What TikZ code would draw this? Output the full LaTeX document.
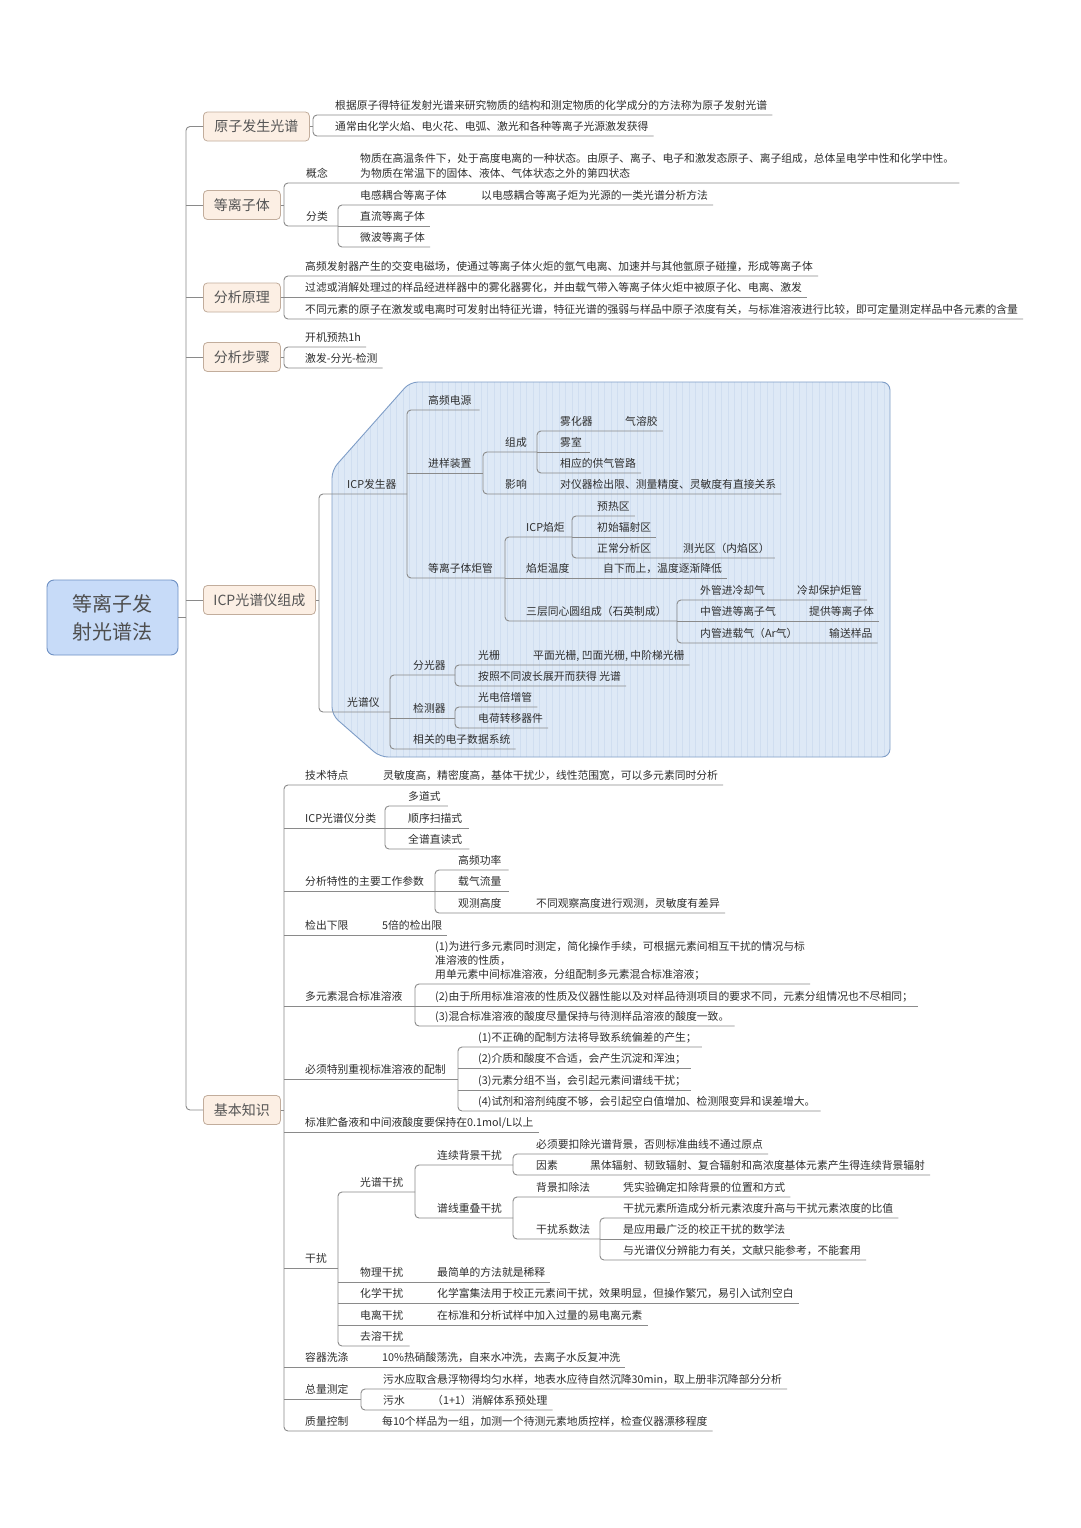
\documentclass[tikz,border=0pt]{standalone}
\usepackage{fontspec}
\setmainfont{Noto Sans CJK SC}
\definecolor{linegray}{HTML}{8A8A8A}
\definecolor{txt}{HTML}{2E2E2E}
\definecolor{rootfill}{HTML}{C7DBF8}
\definecolor{rootborder}{HTML}{6E90C3}
\definecolor{roottxt}{HTML}{4E4E4E}
\definecolor{lfill}{HTML}{FCEFE4}
\definecolor{lborder}{HTML}{C2AD9C}
\definecolor{ltxt}{HTML}{555555}
\definecolor{panelfill}{HTML}{DEE9F6}
\definecolor{panelgrid}{HTML}{D0DEF0}
\definecolor{panelborder}{HTML}{7E9DC7}
\newcommand\fsz{\fontsize{10.8}{14}\selectfont}
\begin{document}
\begin{tikzpicture}[x=1pt,y=-1pt,
  ln/.style={draw=linegray, line width=0.9pt, rounded corners=4pt},
  t/.style={font=\fsz, text=txt, inner xsep=0pt, inner ysep=3.5pt, text depth=2pt, anchor=south west},
  lone/.style={draw=lborder, fill=lfill, rounded corners=4pt, font=\fontsize{14}{16}\selectfont, text=ltxt, minimum height=29pt, inner xsep=2pt, anchor=west, line width=0.8pt},
  root/.style={draw=rootborder, fill=rootfill, rounded corners=7pt, minimum width=131pt, minimum height=75pt, align=center, font=\fontsize{20}{28}\selectfont, text=roottxt, line width=0.9pt}
]
\fill[white] (0,0) rectangle (1080,1528);
\useasboundingbox (0,0) rectangle (1080,1528);

% ---------- ICP panel ----------
\fill[panelfill, rounded corners=8pt] (332,470) -- (410,382) -- (890,382) -- (890,757) -- (380,757) -- (332,715) -- cycle;
\begin{scope}
\clip[rounded corners=8pt] (332,470) -- (410,382) -- (890,382) -- (890,757) -- (380,757) -- (332,715) -- cycle;
\draw[panelgrid, line width=0.3pt, step=6.5] (332,382) grid (890,757);
\end{scope}
\draw[panelborder, rounded corners=8pt, line width=0.9pt] (332,470) -- (410,382) -- (890,382) -- (890,757) -- (380,757) -- (332,715) -- cycle;

% ---------- root and main branches ----------
\node[root] (root) at (112.5,617.5) {等离子发\\射光谱法};
\node[lone, minimum width=106pt] (b1) at (203,126.5) {原子发生光谱};
\node[lone, minimum width=77pt] (b2) at (203,205) {等离子体};
\node[lone, minimum width=77pt] (b3) at (203,297.5) {分析原理};
\node[lone, minimum width=77pt] (b4) at (203,357) {分析步骤};
\node[lone, minimum width=112pt] (b5) at (203,600) {ICP光谱仪组成};
\node[lone, minimum width=77pt] (b6) at (203,1110) {基本知识};

\draw[ln] (b1.west) -- (186,126.5) -- (186,1110) -- (b6.west);
\draw[ln] (root.east) -- (186,617.5);
\draw[ln] (186,205) -- (b2.west);
\draw[ln] (186,297.5) -- (b3.west);
\draw[ln] (186,357) -- (b4.west);
\draw[ln] (186,600) -- (b5.west);

% ---------- 原子发生光谱 ----------
\node[t] (a1) at (335,115) {根据原子得特征发射光谱来研究物质的结构和测定物质的化学成分的方法称为原子发射光谱};
\node[t] (a2) at (335,136) {通常由化学火焰、电火花、电弧、激光和各种等离子光源激发获得};
\draw[ln] ([xshift=5pt]a1.south east) -- (313,115) -- (313,136) -- ([xshift=5pt]a2.south east);
\draw[ln] (b1.east) -- (313,126.5);

% ---------- 等离子体 ----------
\node[t] (p1) at (306,183) {概念};
\node[t, align=left, font=\fontsize{10.8}{15}\selectfont] (p1a) at (360,183) {物质在高温条件下，处于高度电离的一种状态。由原子、离子、电子和激发态原子、离子组成，总体呈电学中性和化学中性。\\为物质在常温下的固体、液体、气体状态之外的第四状态};
\node[t] (p2) at (306,226) {分类};
\node[t] (p21) at (360,205) {电感耦合等离子体};
\node[t] (p21a) at (481,205) {以电感耦合等离子炬为光源的一类光谱分析方法};
\node[t] (p22) at (360,226) {直流等离子体};
\node[t] (p23) at (360,247) {微波等离子体};
\draw[ln] ([xshift=5pt]p1a.south east) -- (284,183) -- (284,226) -- (338,226);
\draw[ln] (b2.east) -- (284,205);
\draw[ln] ([xshift=5pt]p21a.south east) -- (338,205) -- (338,247) -- ([xshift=5pt]p23.south east);
\draw[ln] (338,226) -- ([xshift=5pt]p22.south east);

% ---------- 分析原理 ----------
\node[t] (r1) at (305,276) {高频发射器产生的交变电磁场，使通过等离子体火炬的氩气电离、加速并与其他氩原子碰撞，形成等离子体};
\node[t] (r2) at (305,297.5) {过滤或消解处理过的样品经进样器中的雾化器雾化，并由载气带入等离子体火炬中被原子化、电离、激发};
\node[t] (r3) at (305,319) {不同元素的原子在激发或电离时可发射出特征光谱，特征光谱的强弱与样品中原子浓度有关，与标准溶液进行比较，即可定量测定样品中各元素的含量};
\draw[ln] ([xshift=5pt]r1.south east) -- (284,276) -- (284,319) -- ([xshift=5pt]r3.south east);
\draw[ln] (284,297.5) -- ([xshift=5pt]r2.south east);
\draw[ln] (b3.east) -- (284,297.5);

% ---------- 分析步骤 ----------
\node[t] (s1) at (305,347) {开机预热1h};
\node[t] (s2) at (305,368) {激发-分光-检测};
\draw[ln] ([xshift=5pt]s1.south east) -- (284,347) -- (284,368) -- ([xshift=5pt]s2.south east);
\draw[ln] (b4.east) -- (284,357);

% ---------- ICP光谱仪组成 ----------
\node[t] (g) at (347,494) {ICP发生器};
\node[t] (sp) at (347,712) {光谱仪};
\draw[ln] (407,494) -- (319,494) -- (319,712) -- (390,712);
\draw[ln] (b5.east) -- (319,600);

\node[t] (g1) at (428,410) {高频电源};
\node[t] (g2) at (428,473) {进样装置};
\node[t] (g3) at (428,578) {等离子体炬管};
\draw[ln] ([xshift=8pt]g1.south east) -- (407,410) -- (407,578) -- (505,578);
\draw[ln] (407,473) -- (483,473);

\node[t] (g21) at (505,452) {组成};
\node[t] (g22) at (505,494) {影响};
\node[t] (g22a) at (560,494) {对仪器检出限、测量精度、灵敏度有直接关系};
\draw[ln] (537,452) -- (483,452) -- (483,494) -- ([xshift=5pt]g22a.south east);

\node[t] (g211) at (560,431) {雾化器};
\node[t] (g211a) at (625,431) {气溶胶};
\node[t] (g212) at (560,452) {雾室};
\node[t] (g213) at (560,473) {相应的供气管路};
\draw[ln] ([xshift=5pt]g211a.south east) -- (537,431) -- (537,473) -- ([xshift=5pt]g213.south east);
\draw[ln] (537,452) -- ([xshift=8pt]g212.south east);

\node[t] (g31) at (526,537) {ICP焰炬};
\node[t] (g32) at (526,578) {焰炬温度};
\node[t] (g32a) at (603,578) {自下而上，温度逐渐降低};
\node[t] (g33) at (526,621) {三层同心圆组成（石英制成）};
\draw[ln] (572,537) -- (505,537) -- (505,621) -- (677,621);
\draw[ln] (505,578) -- ([xshift=5pt]g32a.south east);

\node[t] (g311) at (597,516) {预热区};
\node[t] (g312) at (597,537) {初始辐射区};
\node[t] (g313) at (597,558) {正常分析区};
\node[t] (g313a) at (683,558) {测光区（内焰区）};
\draw[ln] ([xshift=5pt]g311.south east) -- (572,516) -- (572,558) -- ([xshift=5pt]g313a.south east);
\draw[ln] (572,537) -- ([xshift=5pt]g312.south east);

\node[t] (g331) at (700,600) {外管进冷却气};
\node[t] (g331a) at (797,600) {冷却保护炬管};
\node[t] (g332) at (700,621) {中管进等离子气};
\node[t] (g332a) at (809,621) {提供等离子体};
\node[t] (g333) at (700,643) {内管进载气（Ar气）};
\node[t] (g333a) at (829,643) {输送样品};
\draw[ln] ([xshift=5pt]g331a.south east) -- (677,600) -- (677,643) -- ([xshift=5pt]g333a.south east);
\draw[ln] (677,621) -- ([xshift=5pt]g332a.south east);

\node[t] (sp1) at (413,675) {分光器};
\node[t] (sp2) at (413,718) {检测器};
\node[t] (sp3) at (413,749) {相关的电子数据系统};
\draw[ln] (455,675) -- (390,675) -- (390,749) -- ([xshift=5pt]sp3.south east);
\draw[ln] (390,718) -- (455,718);

\node[t] (sp11) at (478,665) {光栅};
\node[t] (sp11a) at (533,665) {平面光栅, 凹面光栅, 中阶梯光栅};
\node[t] (sp12) at (478,686) {按照不同波长展开而获得 光谱};
\draw[ln] ([xshift=5pt]sp11a.south east) -- (455,665) -- (455,686) -- ([xshift=5pt]sp12.south east);
\node[t] (sp21) at (478,707) {光电倍增管};
\node[t] (sp22) at (478,728) {电荷转移器件};
\draw[ln] ([xshift=5pt]sp21.south east) -- (455,707) -- (455,728) -- ([xshift=5pt]sp22.south east);

% ---------- 基本知识 ----------
\node[t] (k1) at (305,785) {技术特点};
\node[t] (k1a) at (383,785) {灵敏度高，精密度高，基体干扰少，线性范围宽，可以多元素同时分析};
\node[t] (k2) at (305,828) {ICP光谱仪分类};
\node[t] (k3) at (305,891) {分析特性的主要工作参数};
\node[t] (k4) at (305,935) {检出下限};
\node[t] (k4a) at (382,935) {5倍的检出限};
\node[t] (k5) at (305,1006) {多元素混合标准溶液};
\node[t] (k6) at (305,1079) {必须特别重视标准溶液的配制};
\node[t] (k7) at (305,1132) {标准贮备液和中间液酸度要保持在0.1mol/L以上};
\node[t] (k8) at (305,1268) {干扰};
\node[t] (k9) at (305,1367) {容器洗涤};
\node[t] (k9a) at (382,1367) {10\%热硝酸荡洗，自来水冲洗，去离子水反复冲洗};
\node[t] (k10) at (305,1399) {总量测定};
\node[t] (k11) at (305,1431) {质量控制};
\node[t] (k11a) at (382,1431) {每10个样品为一组，加测一个待测元素地质控样，检查仪器漂移程度};

\draw[ln] ([xshift=5pt]k1a.south east) -- (284,785) -- (284,1431) -- ([xshift=5pt]k11a.south east);
\draw[ln] (b6.east) -- (284,1110);
\draw[ln] (284,828) -- (385,828);
\draw[ln] (284,891) -- (435,891);
\draw[ln] (284,935) -- ([xshift=5pt]k4a.south east);
\draw[ln] (284,1006) -- (415,1006);
\draw[ln] (284,1079) -- (458,1079);
\draw[ln] (284,1132) -- ([xshift=5pt]k7.south east);
\draw[ln] (284,1268) -- (338,1268);
\draw[ln] (284,1367) -- ([xshift=5pt]k9a.south east);
\draw[ln] (284,1399) -- (361,1399);

% ICP光谱仪分类
\node[t] (k21) at (408,806) {多道式};
\node[t] (k22) at (408,828) {顺序扫描式};
\node[t] (k23) at (408,849) {全谱直读式};
\draw[ln] ([xshift=7pt]k21.south east) -- (385,806) -- (385,849) -- ([xshift=7pt]k23.south east);
\draw[ln] (385,828) -- ([xshift=7pt]k22.south east);

% 分析特性
\node[t] (k31) at (458,870) {高频功率};
\node[t] (k32) at (458,891) {载气流量};
\node[t] (k33) at (458,913) {观测高度};
\node[t] (k33a) at (536,913) {不同观察高度进行观测，灵敏度有差异};
\draw[ln] ([xshift=7pt]k31.south east) -- (435,870) -- (435,913) -- ([xshift=5pt]k33a.south east);
\draw[ln] (435,891) -- ([xshift=7pt]k32.south east);

% 多元素混合标准溶液
\node[t, align=left] (k51) at (435,984) {(1)为进行多元素同时测定，简化操作手续，可根据元素间相互干扰的情况与标\\准溶液的性质，\\用单元素中间标准溶液，分组配制多元素混合标准溶液；};
\node[t] (k52) at (435,1006) {(2)由于所用标准溶液的性质及仪器性能以及对样品待测项目的要求不同，元素分组情况也不尽相同；};
\node[t] (k53) at (435,1026) {(3)混合标准溶液的酸度尽量保持与待测样品溶液的酸度一致。};
\draw[ln] ([xshift=5pt]k51.south east) -- (415,984) -- (415,1026) -- ([xshift=5pt]k53.south east);
\draw[ln] (415,1006) -- ([xshift=5pt]k52.south east);

% 必须特别重视标准溶液的配制
\node[t] (k61) at (478,1047) {(1)不正确的配制方法将导致系统偏差的产生；};
\node[t] (k62) at (478,1068) {(2)介质和酸度不合适，会产生沉淀和浑浊；};
\node[t] (k63) at (478,1090) {(3)元素分组不当，会引起元素间谱线干扰；};
\node[t] (k64) at (478,1111) {(4)试剂和溶剂纯度不够，会引起空白值增加、检测限变异和误差增大。};
\draw[ln] ([xshift=5pt]k61.south east) -- (458,1047) -- (458,1111) -- ([xshift=5pt]k64.south east);
\draw[ln] (458,1068) -- ([xshift=5pt]k62.south east);
\draw[ln] (458,1090) -- ([xshift=5pt]k63.south east);

% 干扰
\node[t] (i1) at (360,1192) {光谱干扰};
\node[t] (i2) at (360,1282) {物理干扰};
\node[t] (i2a) at (437,1282) {最简单的方法就是稀释};
\node[t] (i3) at (360,1303) {化学干扰};
\node[t] (i3a) at (437,1303) {化学富集法用于校正元素间干扰，效果明显，但操作繁冗，易引入试剂空白};
\node[t] (i4) at (360,1325) {电离干扰};
\node[t] (i4a) at (437,1325) {在标准和分析试样中加入过量的易电离元素};
\node[t] (i5) at (360,1346) {去溶干扰};
\draw[ln] (415,1192) -- (338,1192) -- (338,1346) -- ([xshift=6pt]i5.south east);
\draw[ln] (338,1282) -- ([xshift=5pt]i2a.south east);
\draw[ln] (338,1303) -- ([xshift=5pt]i3a.south east);
\draw[ln] (338,1325) -- ([xshift=5pt]i4a.south east);

\node[t] (i11) at (437,1165) {连续背景干扰};
\node[t] (i12) at (437,1218) {谱线重叠干扰};
\draw[ln] (513,1165) -- (415,1165) -- (415,1218) -- (513,1218);

\node[t] (i111) at (536,1154) {必须要扣除光谱背景，否则标准曲线不通过原点};
\node[t] (i112) at (536,1175) {因素};
\node[t] (i112a) at (590,1175) {黑体辐射、韧致辐射、复合辐射和高浓度基体元素产生得连续背景辐射};
\draw[ln] ([xshift=5pt]i111.south east) -- (513,1154) -- (513,1175) -- ([xshift=5pt]i112a.south east);

\node[t] (i121) at (536,1197) {背景扣除法};
\node[t] (i121a) at (623,1197) {凭实验确定扣除背景的位置和方式};
\node[t] (i122) at (536,1239) {干扰系数法};
\draw[ln] ([xshift=5pt]i121a.south east) -- (513,1197) -- (513,1239) -- (600,1239);

\node[t] (i1221) at (623,1218) {干扰元素所造成分析元素浓度升高与干扰元素浓度的比值};
\node[t] (i1222) at (623,1239) {是应用最广泛的校正干扰的数学法};
\node[t] (i1223) at (623,1260) {与光谱仪分辨能力有关，文献只能参考，不能套用};
\draw[ln] ([xshift=5pt]i1221.south east) -- (600,1218) -- (600,1260) -- ([xshift=5pt]i1223.south east);
\draw[ln] (600,1239) -- ([xshift=5pt]i1222.south east);

% 总量测定
\node[t] (k101) at (383,1389) {污水应取含悬浮物得均匀水样，地表水应待自然沉降30min，取上册非沉降部分分析};
\node[t] (k102) at (383,1410) {污水};
\node[t] (k102a) at (432,1410) {（1+1）消解体系预处理};
\draw[ln] ([xshift=5pt]k101.south east) -- (361,1389) -- (361,1410) -- ([xshift=5pt]k102a.south east);
\end{tikzpicture}
\end{document}
